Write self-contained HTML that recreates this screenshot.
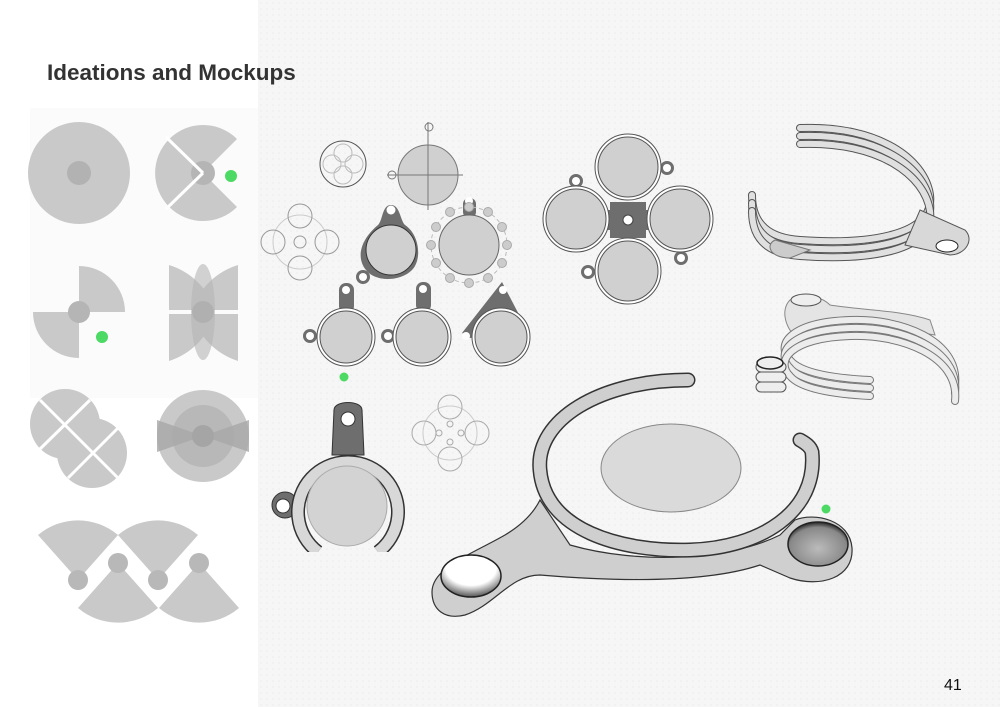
<!DOCTYPE html>
<html><head><meta charset="utf-8"><style>
html,body{margin:0;padding:0;background:#fff;}
svg{display:block;}
</style></head><body>
<svg width="1000" height="707" viewBox="0 0 1000 707" xmlns="http://www.w3.org/2000/svg" font-family="Liberation Sans, sans-serif">
<defs>
<pattern id="dots" width="6" height="6" patternUnits="userSpaceOnUse"><rect width="6" height="6" fill="#f6f6f6"/><circle cx="3" cy="3" r="0.8" fill="#ececec"/></pattern>
<radialGradient id="holeL" cx="0.5" cy="0.3" r="0.7"><stop offset="0" stop-color="#fff"/><stop offset="0.6" stop-color="#fff"/><stop offset="1" stop-color="#555"/></radialGradient>
<radialGradient id="holeR" cx="0.5" cy="0.6" r="0.6"><stop offset="0" stop-color="#bbb"/><stop offset="0.8" stop-color="#888"/><stop offset="1" stop-color="#222"/></radialGradient>
</defs>
<rect width="1000" height="707" fill="#fff"/>
<rect x="258" y="0" width="742" height="707" fill="url(#dots)"/>
<rect x="30" y="108" width="228" height="290" fill="#fbfbfb"/>
<text x="47" y="80" font-size="22.5" font-weight="bold" fill="#333">Ideations and Mockups</text>
<text x="944" y="690" font-size="16" fill="#111">41</text>

<!-- LEFT COLUMN -->
<g fill="#c9c9c9">
<circle cx="79" cy="173" r="51"/>
<circle cx="79" cy="173" r="12" fill="#b2b2b2"/>
<!-- pacman -->
<path d="M203,173 L237,139 A48,48 0 1 0 237,207 Z"/>
<circle cx="203" cy="173" r="12" fill="#b5b5b5"/>
<line x1="203" y1="173" x2="166" y2="137" stroke="#fff" stroke-width="3"/>
<line x1="203" y1="173" x2="166" y2="209" stroke="#fff" stroke-width="3"/>
<circle cx="231" cy="176" r="6" fill="#4cd964"/>
<!-- pinwheel -->
<path d="M79,312 L79,266 A46,46 0 0 1 125,312 Z"/>
<path d="M79,312 L33,312 A46,46 0 0 0 79,358 Z"/>
<circle cx="79" cy="312" r="11" fill="#b5b5b5"/>
<circle cx="102" cy="337" r="6" fill="#4cd964"/>
<!-- bowtie -->
<path d="M169,265 A70,70 0 0 1 215,310 L169,310 Z"/>
<path d="M238,265 A70,70 0 0 0 192,310 L238,310 Z"/>
<path d="M169,361 A70,70 0 0 0 215,314 L169,314 Z"/>
<path d="M238,361 A70,70 0 0 1 192,314 L238,314 Z"/>
<ellipse cx="203" cy="312" rx="12" ry="48" fill="#b5b5b5" opacity="0.6"/>
<circle cx="203" cy="312" r="11" fill="#b0b0b0"/>
<!-- S shape -->
<circle cx="65" cy="424" r="35"/>
<circle cx="92" cy="453" r="35"/>
<line x1="40" y1="400" x2="118" y2="478" stroke="#fff" stroke-width="3"/>
<line x1="40" y1="449" x2="90" y2="400" stroke="#fff" stroke-width="3"/>
<line x1="68" y1="478" x2="118" y2="428" stroke="#fff" stroke-width="3"/>
<!-- radial -->
<circle cx="203" cy="436" r="46"/>
<circle cx="203" cy="436" r="31" fill="#b0b0b0" opacity="0.7"/>
<path d="M203,436 L157,420 L157,452 Z M203,436 L249,420 L249,452 Z" fill="#a8a8a8" opacity="0.8"/>
<circle cx="203" cy="436" r="11" fill="#a5a5a5"/>
<!-- bottom fans -->
<path d="M78,580 L38,535 A62,62 0 0 1 118,535 Z"/>
<path d="M158,580 L118,535 A62,62 0 0 1 198,535 Z"/>
<path d="M118,563 L78,608 A62,62 0 0 0 158,608 Z"/>
<path d="M199,563 L159,608 A62,62 0 0 0 239,608 Z"/>
<circle cx="78" cy="580" r="10" fill="#b8b8b8"/>
<circle cx="118" cy="563" r="10" fill="#b8b8b8"/>
<circle cx="158" cy="580" r="10" fill="#b8b8b8"/>
<circle cx="199" cy="563" r="10" fill="#b8b8b8"/>
</g>

<!-- MIDDLE SKETCHES -->
<g fill="none" stroke="#777" stroke-width="1">
<circle cx="343" cy="164" r="23" stroke="#555"/>
<g stroke="#bbb"><circle cx="343" cy="153" r="9"/><circle cx="343" cy="175" r="9"/><circle cx="332" cy="164" r="9"/><circle cx="354" cy="164" r="9"/></g>
<circle cx="428" cy="175" r="30" fill="#d0d0d0"/>
<line x1="428" y1="122" x2="428" y2="210"/><line x1="387" y1="175" x2="463" y2="175"/>
<circle cx="429" cy="127" r="4"/><circle cx="392" cy="175" r="4"/>
<g stroke="#999"><circle cx="300" cy="242" r="27" stroke="#ccc"/><circle cx="300" cy="216" r="12"/><circle cx="300" cy="268" r="12"/><circle cx="273" cy="242" r="12"/><circle cx="327" cy="242" r="12"/><circle cx="300" cy="242" r="6"/></g>
<g stroke="#aaa"><circle cx="450" cy="433" r="27" stroke="#ccc"/><circle cx="450" cy="407" r="12"/><circle cx="450" cy="459" r="12"/><circle cx="424" cy="433" r="12"/><circle cx="477" cy="433" r="12"/><circle cx="450" cy="424" r="3"/><circle cx="450" cy="442" r="3"/><circle cx="439" cy="433" r="3"/><circle cx="461" cy="433" r="3"/></g>
</g>
<!-- dark teardrop -->
<path d="M391,205 C400,205 400,220 405,225 C420,235 422,260 412,270 C400,282 375,282 366,270 C356,258 360,240 378,225 C383,220 382,205 391,205Z" fill="#6e6e6e"/>
<circle cx="391" cy="250" r="25" fill="#d0d0d0" stroke="#333"/>
<circle cx="391" cy="210" r="4.5" fill="#fff"/>
<circle cx="363" cy="277" r="7" fill="#6e6e6e"/><circle cx="363" cy="277" r="4" fill="#fff"/>
<!-- dotted -->
<rect x="463" y="198" width="13" height="20" rx="6" fill="#6e6e6e"/><circle cx="469" cy="201" r="4" fill="#fff"/>
<circle cx="469" cy="245" r="38" fill="none" stroke="#bbb" stroke-dasharray="4 3"/>
<circle cx="469" cy="245" r="30" fill="#d0d0d0" stroke="#666"/>
<g fill="#ccc" stroke="#aaa"><circle cx="469" cy="207" r="4.5"/><circle cx="469" cy="283" r="4.5"/><circle cx="431" cy="245" r="4.5"/><circle cx="507" cy="245" r="4.5"/><circle cx="450" cy="212" r="4.5"/><circle cx="488" cy="212" r="4.5"/><circle cx="450" cy="278" r="4.5"/><circle cx="488" cy="278" r="4.5"/><circle cx="436" cy="227" r="4.5"/><circle cx="502" cy="227" r="4.5"/><circle cx="436" cy="263" r="4.5"/><circle cx="502" cy="263" r="4.5"/></g>
<!-- three pendants -->
<g>
<rect x="339" y="283" width="15" height="30" rx="7" fill="#6e6e6e"/><circle cx="346" cy="290" r="4" fill="#fff"/>
<circle cx="310" cy="336" r="7" fill="#6e6e6e"/><circle cx="310" cy="336" r="4" fill="#fff"/>
<circle cx="346" cy="337" r="29" fill="#fff" stroke="#555"/><circle cx="346" cy="337" r="26" fill="#d0d0d0" stroke="#555"/>
<rect x="416" y="282" width="15" height="30" rx="7" fill="#6e6e6e"/><circle cx="423" cy="289" r="4" fill="#fff"/>
<circle cx="388" cy="336" r="7" fill="#6e6e6e"/><circle cx="388" cy="336" r="4" fill="#fff"/>
<circle cx="422" cy="337" r="29" fill="#fff" stroke="#555"/><circle cx="422" cy="337" r="26" fill="#d0d0d0" stroke="#555"/>
<path d="M502,282 L527,330 L470,338 L462,333 Z" fill="#6e6e6e"/><circle cx="503" cy="290" r="4" fill="#fff"/>
<circle cx="466" cy="336" r="4" fill="#fff"/>
<circle cx="501" cy="337" r="29" fill="#fff" stroke="#555"/><circle cx="501" cy="337" r="26" fill="#d0d0d0" stroke="#555"/>
</g>
<circle cx="344" cy="377" r="4.5" fill="#4cd964"/>
<!-- four circle -->
<rect x="610" y="202" width="36" height="36" fill="#6e6e6e"/>
<rect x="590" y="210" width="76" height="20" fill="#6e6e6e"/>
<g fill="#6e6e6e"><circle cx="576" cy="181" r="7"/><circle cx="667" cy="168" r="7"/><circle cx="681" cy="258" r="7"/><circle cx="588" cy="272" r="7"/></g>
<g fill="#fff"><circle cx="576" cy="181" r="4"/><circle cx="667" cy="168" r="4"/><circle cx="681" cy="258" r="4"/><circle cx="588" cy="272" r="4"/></g>
<g fill="#d0d0d0" stroke="#555" stroke-width="1">
<circle cx="628" cy="167" r="33" fill="#fff"/><circle cx="628" cy="167" r="30"/>
<circle cx="576" cy="219" r="33" fill="#fff"/><circle cx="576" cy="219" r="30"/>
<circle cx="680" cy="219" r="33" fill="#fff"/><circle cx="680" cy="219" r="30"/>
<circle cx="628" cy="271" r="33" fill="#fff"/><circle cx="628" cy="271" r="30"/>
</g>
<circle cx="628" cy="220" r="5" fill="#fff" stroke="#444"/>
<!-- big bottom-left pendant -->
<path d="M334,410 C334,400 362,400 362,410 L364,455 L332,455 Z" fill="#6e6e6e" stroke="#333"/>
<circle cx="348" cy="419" r="7" fill="#fff" stroke="#333"/>
<circle cx="285" cy="505" r="13" fill="#6e6e6e" stroke="#333"/><circle cx="283" cy="506" r="7" fill="#fff" stroke="#333"/>
<path d="M318,552 A50,50 0 1 1 378,552" fill="none" stroke="#333" stroke-width="14"/>
<path d="M318,552 A50,50 0 1 1 378,552" fill="none" stroke="#d8d8d8" stroke-width="11"/>
<circle cx="347" cy="506" r="40" fill="#d3d3d3" stroke="#aaa"/>
<rect x="300" y="552" width="95" height="30" fill="url(#dots)"/>

<!-- BIG 3D PIECE -->
<path d="M432,592 C432,568 470,555 505,535 C525,523 535,510 540,500 L570,545 C640,565 730,560 780,535 L795,520 C815,512 850,520 852,548 C854,578 820,588 790,578 L760,565 C700,585 600,580 540,575 C510,575 495,605 465,615 C445,620 432,610 432,592 Z" fill="#cfcfcf" stroke="#333" stroke-width="1.2"/>
<path d="M688,380 C600,380 535,420 540,470 C545,530 620,552 690,550 C760,548 818,512 812,452 C810,445 803,442 800,440" fill="none" stroke="#333" stroke-width="15" stroke-linecap="round"/>
<path d="M688,380 C600,380 535,420 540,470 C545,530 620,552 690,550 C760,548 818,512 812,452 C810,445 803,442 800,440" fill="none" stroke="#cfcfcf" stroke-width="12" stroke-linecap="round"/>
<ellipse cx="671" cy="468" rx="70" ry="44" fill="#dadada" stroke="#888"/>
<ellipse cx="471" cy="576" rx="30" ry="21" fill="url(#holeL)" stroke="#222" stroke-width="1.5"/>
<ellipse cx="818" cy="544" rx="30" ry="22" fill="url(#holeR)" stroke="#222" stroke-width="1.5"/>
<circle cx="826" cy="509" r="4.5" fill="#4cd964"/>

<!-- RIGHT TOP RINGS -->
<g fill="none" stroke-linecap="round">
<g id="r1">
<path d="M800,128 C880,125 925,160 930,195 C935,235 870,245 800,240 C770,238 752,225 752,195" stroke="#555" stroke-width="8"/>
<path d="M800,128 C880,125 925,160 930,195 C935,235 870,245 800,240 C770,238 752,225 752,195" stroke="#e0e0e0" stroke-width="6"/>
</g>
<use href="#r1" y="8"/>
<use href="#r1" y="16"/>
</g>
<path d="M920,210 L965,230 C975,240 965,255 950,255 L905,245 Z" fill="#d8d8d8" stroke="#555"/>
<ellipse cx="947" cy="246" rx="11" ry="6" fill="#fff" stroke="#222"/>
<path d="M775,240 C765,245 770,258 790,258 L810,250 Z" fill="#ccc" stroke="#777"/>

<!-- RIGHT LOWER RINGS -->
<path d="M790,300 C800,293 820,295 830,305 C860,310 900,310 930,320 L935,335 C880,325 830,330 800,340 C785,330 780,310 790,300Z" fill="#e4e4e4" stroke="#888"/>
<g fill="none" stroke-linecap="round">
<g id="r2">
<path d="M955,385 C960,340 900,318 850,320 C790,322 775,345 790,360 C800,372 830,378 870,380" stroke="#777" stroke-width="8"/>
<path d="M955,385 C960,340 900,318 850,320 C790,322 775,345 790,360 C800,372 830,378 870,380" stroke="#ececec" stroke-width="6"/>
</g>
<use href="#r2" y="8"/>
<use href="#r2" y="16"/>
</g>
<g fill="#eee" stroke="#555"><rect x="756" y="362" width="30" height="10" rx="5"/><rect x="756" y="372" width="30" height="10" rx="5"/><rect x="756" y="382" width="30" height="10" rx="5"/></g>
<ellipse cx="806" cy="300" rx="15" ry="6" fill="#eee" stroke="#555"/>
<ellipse cx="770" cy="363" rx="13" ry="6" fill="#eee" stroke="#222" stroke-width="1.5"/>
</svg>
</body></html>
